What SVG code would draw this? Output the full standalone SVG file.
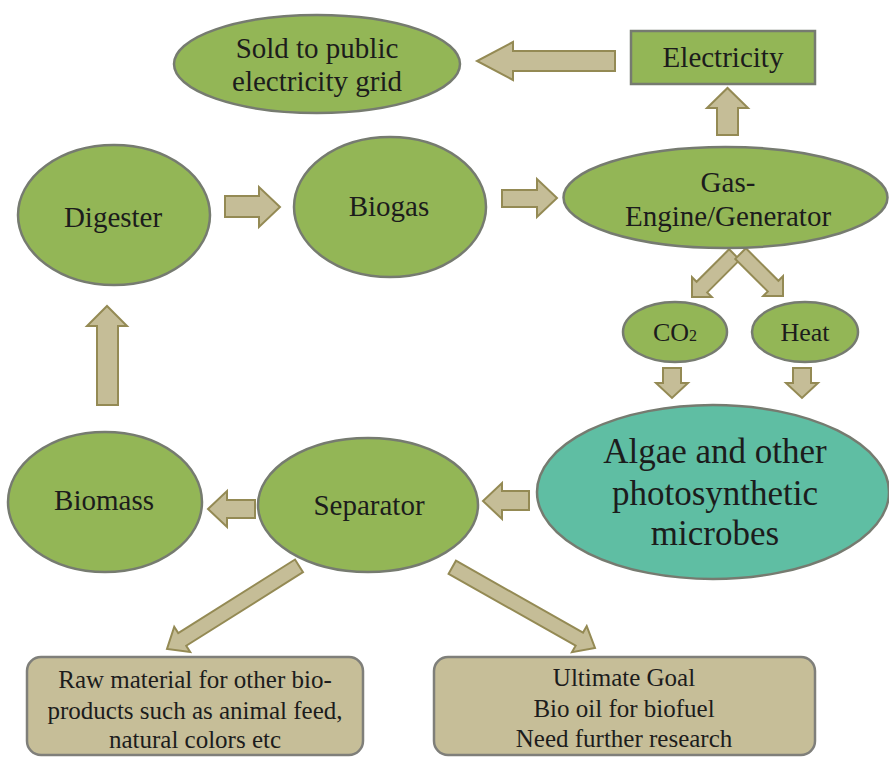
<svg xmlns="http://www.w3.org/2000/svg" width="889" height="758" viewBox="0 0 889 758">
<style>
.g{fill:#93b656;stroke:#767b70;stroke-width:2.5}
.t{fill:#5fbea3;stroke:#767b70;stroke-width:2.5}
.b{fill:#c6be98;stroke:#7f7f7a;stroke-width:2.5}
.a{fill:#c5bd97;stroke:#948a54;stroke-width:2;stroke-linejoin:miter}
text{font-family:"Liberation Serif","Times New Roman",serif;fill:#1c1c1c;text-anchor:middle}
.f29{font-size:29px}
.f26{font-size:26px}
.f25{font-size:25px}
.f35{font-size:35px}
</style>
<rect width="889" height="758" fill="#ffffff"/>
<g id="connectors">
<polygon class="a" points="615,51 513,51 513,42 477,61 513,80 513,71 615,71"/>
<polygon class="a" points="717,135 717,108 707,108 727.5,88 748,108 738,108 738,135"/>
<polygon class="a" points="225,196 259,196 259,187 280,207 259,227 259,217 225,217"/>
<polygon class="a" points="502,190 537,190 537,179 557,198 537,217 537,207 502,207"/>
<polygon class="a" points="97,405 97,326 87,326 107,306 127,326 118,326 118,405"/>
<polygon class="a" points="255,500 227,500 227,491 208,509 227,527 227,518 255,518"/>
<polygon class="a" points="529,491 502,491 502,483 483,501 502,519 502,510 529,510"/>
<polygon class="a" points="663,368 681,368 681,383 688,383 672,398 656,383 663,383"/>
<polygon class="a" points="793,368 811,368 811,383 818,383 802,398 786,383 793,383"/>
<polygon class="a" transform="translate(692,297) rotate(135)" points="-60,-7.5 -14,-7.5 -14,-14 0,0 -14,14 -14,7.5 -60,7.5"/>
<polygon class="a" transform="translate(783,296) rotate(45)" points="-60,-7.5 -14,-7.5 -14,-14 0,0 -14,14 -14,7.5 -60,7.5"/>
<polygon class="a" transform="translate(167,649) rotate(147.8)" points="-156,-7.5 -18,-7.5 -18,-15 0,0 -18,15 -18,7.5 -156,7.5"/>
<polygon class="a" transform="translate(595,648) rotate(29.5)" points="-164,-7.5 -18,-7.5 -18,-15 0,0 -18,15 -18,7.5 -164,7.5"/>
</g>
<g id="sold">
<ellipse class="g" cx="317" cy="64" rx="143" ry="49"/>
<text class="f29" x="317" y="58">Sold to public</text>
<text class="f29" x="317" y="91">electricity grid</text>
</g>
<g id="electricity">
<rect class="g" x="631" y="31" width="184" height="53"/>
<text class="f29" x="723" y="67">Electricity</text>
</g>
<g id="digester">
<ellipse class="g" cx="114" cy="215" rx="96" ry="70"/>
<text class="f29" x="113" y="227">Digester</text>
</g>
<g id="biogas">
<ellipse class="g" cx="390" cy="207" rx="96" ry="70"/>
<text class="f29" x="389" y="216">Biogas</text>
</g>
<g id="gasengine">
<ellipse class="g" cx="725.5" cy="197.5" rx="162" ry="50.5"/>
<text class="f29" x="728" y="192">Gas-</text>
<text class="f29" x="728" y="226">Engine/Generator</text>
</g>
<g id="co2">
<ellipse class="g" cx="675" cy="332" rx="52" ry="30"/>
<text class="f26" x="675" y="341">CO<tspan font-size="16px">2</tspan></text>
</g>
<g id="heat">
<ellipse class="g" cx="805" cy="332" rx="53" ry="30"/>
<text class="f26" x="805" y="341">Heat</text>
</g>
<g id="algae">
<ellipse class="t" cx="713" cy="492" rx="176" ry="87"/>
<text class="f35" x="715" y="463">Algae and other</text>
<text class="f35" x="715" y="505">photosynthetic</text>
<text class="f35" x="715" y="545">microbes</text>
</g>
<g id="biomass">
<ellipse class="g" cx="105" cy="502" rx="97" ry="70"/>
<text class="f29" x="104" y="510">Biomass</text>
</g>
<g id="separator">
<ellipse class="g" cx="368" cy="505" rx="110" ry="67"/>
<text class="f29" x="369" y="515">Separator</text>
</g>
<g id="rawmaterial">
<rect class="b" x="27" y="657" width="336" height="98" rx="14"/>
<text class="f25" x="195" y="688">Raw material for other bio-</text>
<text class="f25" x="195" y="719">products such as animal feed,</text>
<text class="f25" x="195" y="748">natural colors etc</text>
</g>
<g id="goal">
<rect class="b" x="434" y="657" width="381" height="98" rx="14"/>
<text class="f25" x="624" y="686">Ultimate Goal</text>
<text class="f25" x="624" y="717">Bio oil for biofuel</text>
<text class="f25" x="624" y="747">Need further research</text>
</g>
</svg>
